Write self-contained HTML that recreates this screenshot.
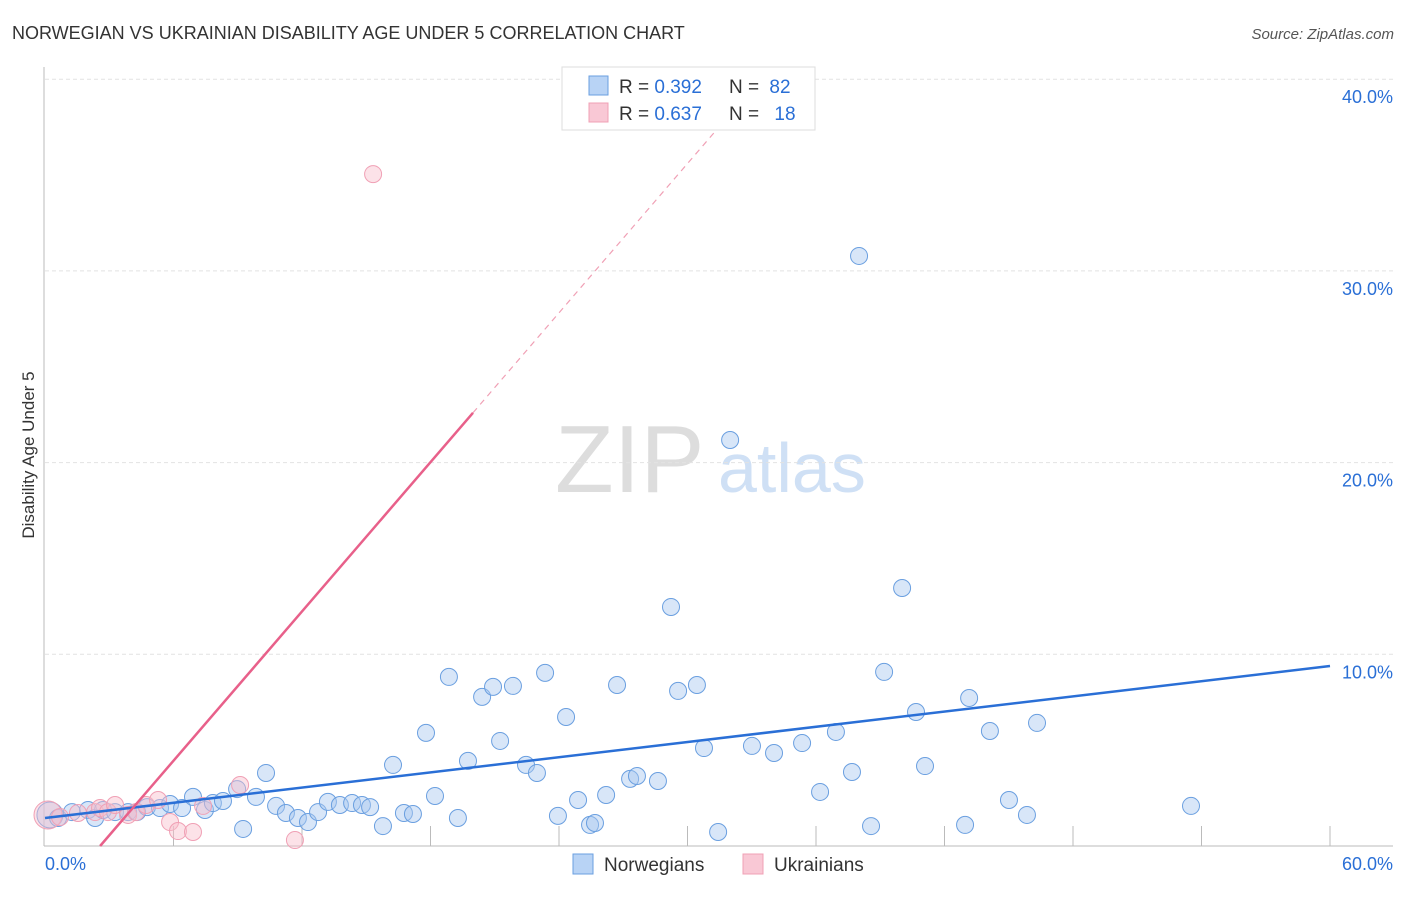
<!DOCTYPE html>
<html><head><meta charset="utf-8"><style>
body{margin:0;background:#fff;font-family:"Liberation Sans",sans-serif}
svg text{font-family:"Liberation Sans",sans-serif}
</style></head><body>
<svg id="c" width="1406" height="892">
<text x="12" y="39" font-size="18" fill="#333">NORWEGIAN VS UKRAINIAN DISABILITY AGE UNDER 5 CORRELATION CHART</text>
<text x="1394" y="39" font-size="15" fill="#555" font-style="italic" text-anchor="end">Source: ZipAtlas.com</text>
<text x="555" y="492" font-size="96" fill="#ddd" font-family="Liberation Serif">ZIP</text>
<text x="718" y="492" font-size="70" fill="#cfe0f5">atlas</text>
<text transform="translate(34,455) rotate(-90)" font-size="17" fill="#333" text-anchor="middle">Disability Age Under 5</text>
<g id="grid"></g><g id="pts"></g><g id="trend"></g>
<g>
<rect x="562" y="67" width="253" height="63" fill="#fff" stroke="#ddd"/>
<rect x="589" y="76" width="19" height="19" fill="#b8d3f5" stroke="#6a9fe0"/>
<text x="619" y="93" font-size="19" fill="#333">R = <tspan fill="#2a6fd6">0.392</tspan></text>
<text x="729" y="93" font-size="19" fill="#333">N = <tspan fill="#2a6fd6" dx="5">82</tspan></text>
<rect x="589" y="103" width="19" height="19" fill="#f9c8d5" stroke="#f0a0b5"/>
<text x="619" y="120" font-size="19" fill="#333">R = <tspan fill="#2a6fd6">0.637</tspan></text>
<text x="729" y="120" font-size="19" fill="#333">N = <tspan fill="#2a6fd6" dx="10">18</tspan></text>
</g>
<g>
<rect x="573" y="854" width="20" height="20" fill="#b8d3f5" stroke="#6a9fe0"/>
<text x="604" y="871" font-size="19" fill="#333">Norwegians</text>
<rect x="743" y="854" width="20" height="20" fill="#f9c8d5" stroke="#f0a0b5"/>
<text x="774" y="871" font-size="19" fill="#333">Ukrainians</text>
</g>
</svg>
<script>
const xTicks=[0,60];
const yTicks=[10,20,30,40];
const blueX=[.23,.61,1.26,2.01,2.34,2.71,3.27,3.88,4.30,4.76,5.37,5.84,6.40,6.91,7.47,7.84,8.31,8.97,9.25,9.85,10.32,10.79,11.25,11.81,12.28,12.75,13.21,13.77,14.34,14.80,15.18,15.78,16.25,16.76,17.18,17.79,18.21,18.86,19.28,19.75,20.41,20.92,21.25,21.85,22.46,22.97,23.35,23.95,24.33,24.89,25.45,25.68,26.20,26.71,27.32,27.64,28.62,29.23,29.56,30.44,30.77,31.43,31.99,33.01,34.04,35.35,36.19,36.93,37.68,38.01,38.57,39.18,40.02,40.67,41.09,42.96,43.15,44.12,45.01,45.85,46.32,53.51];
const blueY=[1.62,1.46,1.77,1.88,1.46,1.88,1.77,1.77,1.77,2.03,1.98,2.19,1.98,2.56,1.88,2.24,2.35,2.97,.89,2.56,3.81,2.09,1.72,1.46,1.25,1.77,2.30,2.14,2.24,2.14,2.03,1.04,4.23,1.72,1.67,5.90,2.61,8.82,1.46,4.44,7.78,8.30,5.48,8.35,4.23,3.81,9.03,1.57,6.73,2.40,1.10,1.20,2.66,8.40,3.50,3.65,3.39,12.47,8.09,8.40,5.11,.73,21.18,5.22,4.85,5.37,2.82,5.95,3.86,30.78,1.04,9.08,13.46,6.99,4.17,1.10,7.72,6.00,2.40,1.62,6.42,2.09];
const pinkX=[.14,.70,1.54,2.34,2.57,2.94,3.27,3.88,4.25,4.72,5.28,5.84,6.21,6.91,7.38,9.11,11.67,15.32];
const pinkY=[1.62,1.51,1.72,1.77,1.98,1.77,2.14,1.62,1.77,2.14,2.40,1.25,.78,.73,2.09,3.18,.31,35.05];
const blueTrend=[1.46,9.39];
const pinkTrend=[-3.34,1.298];
const X=v=>45+v/60*1285, Y=v=>846-v/10*191.7;
const NS="http://www.w3.org/2000/svg";
function mk(p,t,a){const e=document.createElementNS(NS,t);for(const k in a)e.setAttribute(k,a[k]);p.appendChild(e);return e;}
const g=document.getElementById('grid');
yTicks.forEach(t=>{
 const l=mk(g,'line',{x1:45,x2:1393,y1:Y(t),y2:Y(t),stroke:'#e2e2e2','stroke-dasharray':'4,3'});
 
 
 const tx=mk(g,'text',{x:1393,y:Y(t)+24,'font-size':18,fill:'#2a6fd6','text-anchor':'end'});tx.textContent=t.toFixed(1)+'%';
 
 
});
for(let i=1;i<=10;i++){const v=i*6;const l=mk(g,'line',{x1:X(v),x2:X(v),y1:826,y2:846,stroke:'#bbb'});
 
 }
mk(g,'line',{x1:44,x2:44,y1:67,y2:846,stroke:'#bbb'});
mk(g,'line',{x1:44,x2:1393,y1:846,y2:846,stroke:'#bbb'});
xTicks.forEach((t,i)=>{const tx=mk(g,'text',{x:i?1393:45,y:870,'font-size':18,fill:'#2a6fd6','text-anchor':i?'end':'start'});tx.textContent=t.toFixed(1)+'%';
 
 });
const p=document.getElementById('pts');
blueX.forEach((x,i)=>{const c=mk(p,'circle',{cx:X(x),cy:Y(blueY[i]),r:i<1?13:8.5,fill:'rgba(168,200,240,0.45)',stroke:'#6a9fe0','stroke-width':1});
 
 });
pinkX.forEach((x,i)=>{const c=mk(p,'circle',{cx:X(x),cy:Y(pinkY[i]),r:i<1?14:8.5,fill:'rgba(248,190,205,0.45)',stroke:'#f0a0b5','stroke-width':1});
 
 });
const tr=document.getElementById('trend');
const bl=mk(tr,'line',{x1:X(0),y1:Y(blueTrend[0]),x2:X(60),y2:Y(blueTrend[1]),stroke:'#2a6fd6','stroke-width':2.5});


const px=y=>(y-pinkTrend[0])/pinkTrend[1];
const pl=mk(tr,'line',{x1:X(px(0)),y1:Y(0),x2:X(px(22.6)),y2:Y(22.6),stroke:'#e8608a','stroke-width':2.5});


const pd=mk(tr,'line',{x1:X(px(22.6)),y1:Y(22.6),x2:X(px(38.5)),y2:Y(38.5),stroke:'#f0a0b5','stroke-width':1.2,'stroke-dasharray':'6,5'});


</script>
</body></html>
